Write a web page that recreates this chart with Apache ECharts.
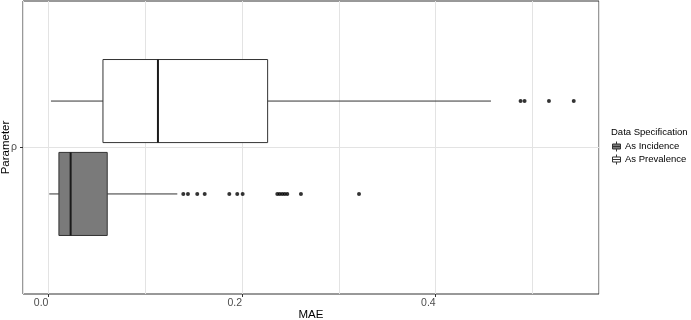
<!DOCTYPE html>
<html>
<head>
<meta charset="utf-8">
<script src="https://cdn.jsdelivr.net/npm/echarts@6/dist/echarts.min.js"></script>
<style>
  html, body { margin: 0; padding: 0; background: #ffffff; }
  #chart { width: 691px; height: 320px; }
</style>
</head>
<body>
<div id="chart"></div>
<script>
// ---- data ----
const categories = ['As Incidence', 'As Prevalence'];
const parameterLabels = ['ρ'];
// [lower whisker, Q1, median, Q3, upper whisker]
const incidenceStats = [0.0008, 0.0108, 0.0229, 0.0607, 0.1331];
const prevalenceStats = [0.0026, 0.0563, 0.1131, 0.2264, 0.4571];
const incidenceOutliers = [0.1393, 0.1441, 0.1537, 0.1614, 0.1868, 0.1950, 0.2006,
  0.2364, 0.2389, 0.2415, 0.2441, 0.2467, 0.2608, 0.3208];
const prevalenceOutliers = [0.4877, 0.4918, 0.5170, 0.5426];
const xTickValues = [0, 0.2, 0.4];
const xTickLabels = ['0.0', '0.2', '0.4'];

// ---- layout / style ----
const FONT = '"Liberation Sans", Arial, Helvetica, sans-serif';
const X_MIN = -0.0263, X_MAX = 0.5687;
const PARAM_POS = 1;          // ρ sits at 1 on a 0..2 axis
const DODGE = 0.317;          // dodge offset in y-axis units
const BOX_HALF = 0.2835;      // half box height in y-axis units
const fills = { 'As Incidence': '#7a7a7a', 'As Prevalence': '#ffffff' };
const statsByCat = { 'As Incidence': incidenceStats, 'As Prevalence': prevalenceStats };
const outByCat = { 'As Incidence': incidenceOutliers, 'As Prevalence': prevalenceOutliers };
const centerOf = (i) => PARAM_POS + (i === 0 ? -DODGE : DODGE);

const legendIcon = 'path://M5,0 L5,2.5 M1,2.5 L9,2.5 L9,7.5 L1,7.5 Z M1,5 L9,5 M5,7.5 L5,10';

function renderBox(params, api) {
  const yc = api.value(5);
  const lo = api.coord([api.value(0), yc]);
  const q1 = api.coord([api.value(1), yc]);
  const md = api.coord([api.value(2), yc]);
  const q3 = api.coord([api.value(3), yc]);
  const hi = api.coord([api.value(4), yc]);
  const top = api.coord([api.value(1), yc + BOX_HALF])[1];
  const bot = api.coord([api.value(1), yc - BOX_HALF])[1];
  const fill = api.visual('color');
  const ln = { stroke: '#333333', lineWidth: 1 };
  return {
    type: 'group',
    children: [
      { type: 'line', shape: { x1: lo[0], y1: lo[1], x2: q1[0], y2: q1[1] }, style: ln },
      { type: 'line', shape: { x1: q3[0], y1: q3[1], x2: hi[0], y2: hi[1] }, style: ln },
      { type: 'rect', shape: { x: q1[0], y: top, width: q3[0] - q1[0], height: bot - top },
        style: { fill: fill, stroke: '#333333', lineWidth: 1 } },
      { type: 'line', shape: { x1: md[0], y1: top, x2: md[0], y2: bot },
        style: { stroke: '#1a1a1a', lineWidth: 2 } }
    ]
  };
}

const series = [];
categories.forEach(function (cat, i) {
  series.push({
    name: cat,
    type: 'custom',
    xAxisIndex: 0, yAxisIndex: 0,
    renderItem: renderBox,
    itemStyle: { color: fills[cat] },
    encode: { x: [0, 1, 2, 3, 4], y: 5 },
    data: [statsByCat[cat].concat([centerOf(i)])],
    z: 2,
    silent: true
  });
  series.push({
    name: cat,
    type: 'scatter',
    xAxisIndex: 0, yAxisIndex: 0,
    symbol: 'circle',
    symbolSize: 4,
    itemStyle: { color: '#000000' },
    data: outByCat[cat].map(v => [v, centerOf(i)]),
    z: 3,
    silent: true
  });
});

const chart = echarts.init(document.getElementById('chart'), null, { renderer: 'canvas' });
chart.setOption({
  animation: false,
  backgroundColor: '#ffffff',
  grid: {
    left: 23, right: 92, top: 1, bottom: 26,
    containLabel: false,
    outerBoundsMode: 'none',
    show: true, borderColor: '#333333', borderWidth: 1, backgroundColor: '#ffffff'
  },
  title: {
    text: 'Data Specification',
    left: 611, top: 127, padding: 0,
    textStyle: { fontFamily: FONT, fontSize: 9.5, fontWeight: 'normal', color: '#000000' }
  },
  legend: {
    orient: 'vertical',
    left: 612, top: 141,
    padding: 0,
    itemGap: 2,
    itemWidth: 9, itemHeight: 10,
    selectedMode: false,
    textStyle: { fontFamily: FONT, fontSize: 9.5, color: '#000000', padding: [0, 0, 0, -1] },
    data: categories.map(c => ({
      name: c, icon: legendIcon,
      itemStyle: { color: fills[c], borderColor: '#333333', borderWidth: 1 }
    }))
  },
  xAxis: [{
    type: 'value',
    min: X_MIN, max: X_MAX,
    position: 'bottom',
    name: 'MAE',
    nameLocation: 'middle',
    nameGap: 15,
    nameMoveOverlap: false,
    nameTextStyle: { fontFamily: FONT, fontSize: 11.5, color: '#000000', verticalAlign: 'top' },
    axisLine: { show: false, onZero: false },
    axisTick: { show: true, length: 3, lineStyle: { color: '#333333' }, customValues: xTickValues },
    axisLabel: {
      customValues: xTickValues,
      margin: 4,
      align: 'right',
      fontFamily: FONT, fontSize: 10.5, color: '#4d4d4d',
      formatter: v => xTickLabels[xTickValues.findIndex(t => Math.abs(t - v) < 1e-9)] || ''
    },
    splitLine: { show: false }
  }, {
    type: 'value',
    min: X_MIN, max: X_MAX,
    position: 'bottom',
    axisLine: { show: false, onZero: false },
    axisTick: { show: false },
    axisLabel: { show: false },
    splitLine: { show: true, lineStyle: { color: '#e3e3e3', width: 1 } }
  }],
  yAxis: {
    type: 'value',
    min: 0, max: 2, interval: 1,
    position: 'left',
    name: 'Parameter',
    nameLocation: 'middle',
    nameGap: 11,
    nameRotate: 90,
    nameMoveOverlap: false,
    nameTextStyle: { fontFamily: FONT, fontSize: 11.5, color: '#000000' },
    axisLine: { show: false, onZero: false },
    axisTick: { show: true, length: 3, lineStyle: { color: '#333333' }, customValues: [PARAM_POS] },
    axisLabel: {
      customValues: [PARAM_POS],
      margin: 6,
      fontFamily: FONT, fontSize: 10.5, color: '#4d4d4d',
      formatter: v => (Math.abs(v - PARAM_POS) < 1e-9 ? parameterLabels[0] : '')
    },
    splitLine: { show: true, lineStyle: { color: '#e3e3e3', width: 1 } }
  },
  series: series
});
</script>
</body>
</html>
